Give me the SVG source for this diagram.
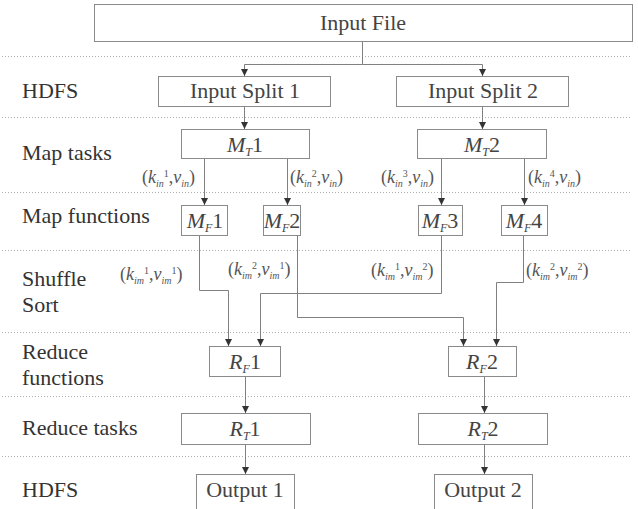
<svg xmlns="http://www.w3.org/2000/svg" width="638" height="509" viewBox="0 0 638 509">
<defs>
<style>
text{font-family:"Liberation Serif","DejaVu Serif","Times New Roman",Times,serif}
.lbl{font-size:22px;fill:#333}
.nl{font-size:22px;fill:#444}
.pl{font-size:18px;fill:#555}
.it{font-style:italic}
.sm{font-size:10px}
.sb{font-size:12px;font-style:italic}
.box{fill:#fff;stroke:#8a8a8a;stroke-width:1}
.dot{stroke:#b0b0b0;stroke-width:1;stroke-dasharray:1 2}
.edge{stroke:#808080;stroke-width:1;fill:none}
</style>
<marker id="ah" markerWidth="8" markerHeight="8" refX="7" refY="3.5" orient="auto" markerUnits="userSpaceOnUse">
<path d="M0,0 L7,3.5 L0,7 z" fill="#333"/>
</marker>
</defs>
<rect width="638" height="509" fill="#fff"/>
<g id="dotted-lines">
<line class="dot" x1="2" y1="56.5" x2="632" y2="56.5"/>
<line class="dot" x1="2" y1="117.5" x2="632" y2="117.5"/>
<line class="dot" x1="2" y1="192.5" x2="632" y2="192.5"/>
<line class="dot" x1="2" y1="250.5" x2="632" y2="250.5"/>
<line class="dot" x1="2" y1="332.5" x2="632" y2="332.5"/>
<line class="dot" x1="2" y1="396.5" x2="632" y2="396.5"/>
<line class="dot" x1="2" y1="456.5" x2="632" y2="456.5"/>
</g>
<g id="stage-labels">
<text class="lbl" x="22" y="98">HDFS</text>
<text class="lbl" x="22" y="160">Map tasks</text>
<text class="lbl" x="22" y="223">Map functions</text>
<text class="lbl" x="22" y="286">Shuffle</text>
<text class="lbl" x="22" y="312">Sort</text>
<text class="lbl" x="22" y="359">Reduce</text>
<text class="lbl" x="22" y="385">functions</text>
<text class="lbl" x="22" y="435">Reduce tasks</text>
<text class="lbl" x="22" y="497">HDFS</text>
</g>
<g id="connectors">
<path class="edge" d="M362.5,42 V64.5 H244.5 V76" marker-end="url(#ah)"/>
<path class="edge" d="M362.5,64.5 H482.5 V76" marker-end="url(#ah)"/>
<path class="edge" d="M244.5,107 V129" marker-end="url(#ah)"/>
<path class="edge" d="M482.5,107 V129" marker-end="url(#ah)"/>
<path class="edge" d="M204.5,159 V205" marker-end="url(#ah)"/>
<path class="edge" d="M287.5,159 V205" marker-end="url(#ah)"/>
<path class="edge" d="M441.5,159 V205" marker-end="url(#ah)"/>
<path class="edge" d="M524.5,159 V205" marker-end="url(#ah)"/>
<path class="edge" d="M199.5,236 V290.5 H228.5 V346" marker-end="url(#ah)"/>
<path class="edge" d="M297.5,236 V317.5 H463.5 V346" marker-end="url(#ah)"/>
<path class="edge" d="M441.5,236 V293.5 H260.5 V346" marker-end="url(#ah)"/>
<path class="edge" d="M523.5,236 V282.5 H496.5 V346" marker-end="url(#ah)"/>
<path class="edge" d="M245.5,376 V413" marker-end="url(#ah)"/>
<path class="edge" d="M484.5,376 V413" marker-end="url(#ah)"/>
<path class="edge" d="M245.5,444 V474" marker-end="url(#ah)"/>
<path class="edge" d="M484.5,444 V474" marker-end="url(#ah)"/>
</g>
<g id="edge-labels">
<text class="pl" x="142" y="183">(<tspan class="it">k</tspan><tspan class="sm it" dy="4">in</tspan><tspan class="sm" dy="-10">1</tspan><tspan dy="6">,</tspan><tspan class="it">v</tspan><tspan class="sm it" dy="4">in</tspan><tspan dy="-4">)</tspan></text>
<text class="pl" x="290" y="183">(<tspan class="it">k</tspan><tspan class="sm it" dy="4">in</tspan><tspan class="sm" dy="-10">2</tspan><tspan dy="6">,</tspan><tspan class="it">v</tspan><tspan class="sm it" dy="4">in</tspan><tspan dy="-4">)</tspan></text>
<text class="pl" x="381" y="183">(<tspan class="it">k</tspan><tspan class="sm it" dy="4">in</tspan><tspan class="sm" dy="-10">3</tspan><tspan dy="6">,</tspan><tspan class="it">v</tspan><tspan class="sm it" dy="4">in</tspan><tspan dy="-4">)</tspan></text>
<text class="pl" x="528" y="183">(<tspan class="it">k</tspan><tspan class="sm it" dy="4">in</tspan><tspan class="sm" dy="-10">4</tspan><tspan dy="6">,</tspan><tspan class="it">v</tspan><tspan class="sm it" dy="4">in</tspan><tspan dy="-4">)</tspan></text>
<text class="pl" x="120" y="280">(<tspan class="it">k</tspan><tspan class="sm it" dy="4">im</tspan><tspan class="sm" dy="-10">1</tspan><tspan dy="6">,</tspan><tspan class="it">v</tspan><tspan class="sm it" dy="4">im</tspan><tspan class="sm" dy="-10">1</tspan><tspan dy="6">)</tspan></text>
<text class="pl" x="228" y="275">(<tspan class="it">k</tspan><tspan class="sm it" dy="4">im</tspan><tspan class="sm" dy="-10">2</tspan><tspan dy="6">,</tspan><tspan class="it">v</tspan><tspan class="sm it" dy="4">im</tspan><tspan class="sm" dy="-10">1</tspan><tspan dy="6">)</tspan></text>
<text class="pl" x="371" y="276">(<tspan class="it">k</tspan><tspan class="sm it" dy="4">im</tspan><tspan class="sm" dy="-10">1</tspan><tspan dy="6">,</tspan><tspan class="it">v</tspan><tspan class="sm it" dy="4">im</tspan><tspan class="sm" dy="-10">2</tspan><tspan dy="6">)</tspan></text>
<text class="pl" x="526" y="276">(<tspan class="it">k</tspan><tspan class="sm it" dy="4">im</tspan><tspan class="sm" dy="-10">2</tspan><tspan dy="6">,</tspan><tspan class="it">v</tspan><tspan class="sm it" dy="4">im</tspan><tspan class="sm" dy="-10">2</tspan><tspan dy="6">)</tspan></text>
</g>
<g id="input-file">
<rect class="box" x="94.5" y="4.5" width="538" height="37"/>
<text class="nl" x="363" y="30" text-anchor="middle">Input File</text>
</g>
<g id="input-split-1">
<rect class="box" x="158.5" y="76.5" width="172" height="30"/>
<text class="nl" x="245" y="98" text-anchor="middle">Input Split 1</text>
</g>
<g id="input-split-2">
<rect class="box" x="396.5" y="76.5" width="172" height="30"/>
<text class="nl" x="483" y="98" text-anchor="middle">Input Split 2</text>
</g>
<g id="mt1">
<rect class="box" x="181.5" y="129.5" width="128" height="29"/>
<text class="nl" x="245" y="152" text-anchor="middle"><tspan class="it">M</tspan><tspan class="sb" dy="4">T</tspan><tspan dy="-4">1</tspan></text>
</g>
<g id="mt2">
<rect class="box" x="417.5" y="129.5" width="129" height="29"/>
<text class="nl" x="482" y="152" text-anchor="middle"><tspan class="it">M</tspan><tspan class="sb" dy="4">T</tspan><tspan dy="-4">2</tspan></text>
</g>
<g id="mf1">
<rect class="box" x="181.5" y="205.5" width="46" height="30"/>
<text class="nl" x="205" y="228" text-anchor="middle"><tspan class="it">M</tspan><tspan class="sb" dy="4">F</tspan><tspan dy="-4">1</tspan></text>
</g>
<g id="mf2">
<rect class="box" x="263.5" y="205.5" width="37" height="30"/>
<text class="nl" x="282" y="228" text-anchor="middle"><tspan class="it">M</tspan><tspan class="sb" dy="4">F</tspan><tspan dy="-4">2</tspan></text>
</g>
<g id="mf3">
<rect class="box" x="418.5" y="205.5" width="44" height="30"/>
<text class="nl" x="440" y="228" text-anchor="middle"><tspan class="it">M</tspan><tspan class="sb" dy="4">F</tspan><tspan dy="-4">3</tspan></text>
</g>
<g id="mf4">
<rect class="box" x="501.5" y="205.5" width="46" height="30"/>
<text class="nl" x="524" y="228" text-anchor="middle"><tspan class="it">M</tspan><tspan class="sb" dy="4">F</tspan><tspan dy="-4">4</tspan></text>
</g>
<g id="rf1">
<rect class="box" x="209.5" y="346.5" width="71" height="30"/>
<text class="nl" x="245" y="369" text-anchor="middle"><tspan class="it">R</tspan><tspan class="sb" dy="4">F</tspan><tspan dy="-4">1</tspan></text>
</g>
<g id="rf2">
<rect class="box" x="448.5" y="346.5" width="68" height="30"/>
<text class="nl" x="482" y="369" text-anchor="middle"><tspan class="it">R</tspan><tspan class="sb" dy="4">F</tspan><tspan dy="-4">2</tspan></text>
</g>
<g id="rt1">
<rect class="box" x="181.5" y="413.5" width="129" height="31"/>
<text class="nl" x="245" y="436" text-anchor="middle"><tspan class="it">R</tspan><tspan class="sb" dy="4">T</tspan><tspan dy="-4">1</tspan></text>
</g>
<g id="rt2">
<rect class="box" x="418.5" y="413.5" width="129" height="31"/>
<text class="nl" x="483" y="436" text-anchor="middle"><tspan class="it">R</tspan><tspan class="sb" dy="4">T</tspan><tspan dy="-4">2</tspan></text>
</g>
<g id="output-1">
<rect class="box" x="196.5" y="474.5" width="98" height="40"/>
<text class="nl" x="245" y="497" text-anchor="middle">Output 1</text>
</g>
<g id="output-2">
<rect class="box" x="434.5" y="474.5" width="98" height="40"/>
<text class="nl" x="483" y="497" text-anchor="middle">Output 2</text>
</g>
</svg>
